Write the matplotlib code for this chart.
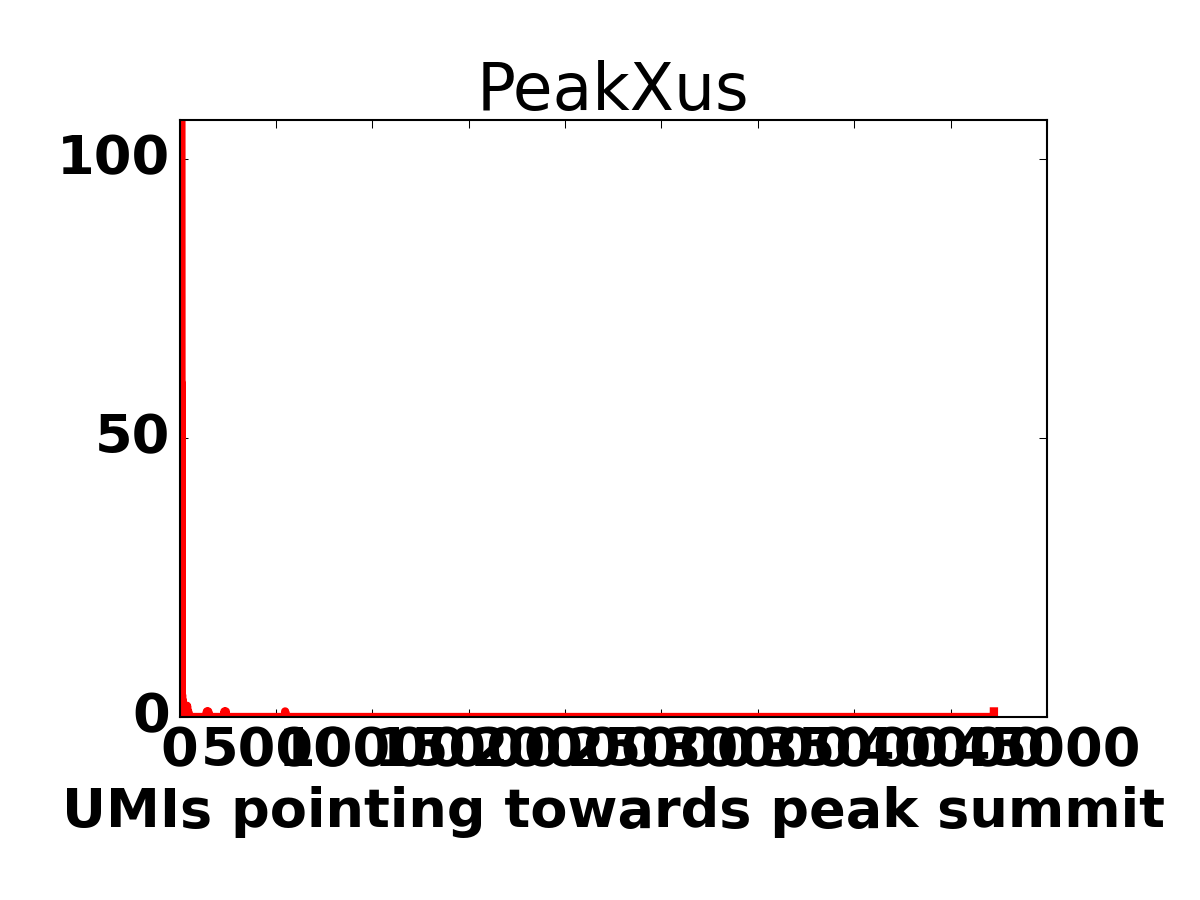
import matplotlib
matplotlib.use("Agg")
import matplotlib.pyplot as plt
import numpy as np

# number of peaks (y) for each UMI count (x); all other UMI counts have 0 peaks
umi_values = [1, 5, 10, 20, 30, 40, 50, 60, 70, 80, 90, 100, 110, 130, 160,
              200, 250, 300, 350, 390, 420, 450,
              1420, 1490, 2330, 2400, 5480, 42246]
peak_counts = [3000, 1500, 900, 600, 450, 350, 280, 220, 170, 130, 60, 20, 8, 4, 3,
               2, 2, 2, 2, 2, 1, 1,
               1, 1, 1, 1, 1, 1]

x_ticks = np.arange(0, 45001, 5000)
y_ticks = [0, 50, 100]

counts = np.zeros(max(umi_values) + 1)
counts[umi_values] = peak_counts

plt.rcParams["font.family"] = "DejaVu Sans"

fig = plt.figure(figsize=(8, 6), dpi=150)
ax = fig.add_axes([0.1496, 0.2033, 0.7229, 0.6634])
ax.plot(np.arange(len(counts)), counts, color="red", linewidth=4)

ax.set_xlim(0, 45000)
ax.set_ylim(0, 107)
ax.set_xticks(x_ticks)
ax.set_yticks(y_ticks)
ax.tick_params(direction="in", top=True, right=True, length=4, width=0.5,
               labelsize=26)
ax.tick_params(axis="x", pad=4)
ax.tick_params(axis="y", pad=4.5)
for lbl in ax.get_xticklabels() + ax.get_yticklabels():
    lbl.set_fontweight("bold")
for lbl in ax.get_yticklabels():
    lbl.set_verticalalignment("center")
for sp in ax.spines.values():
    sp.set_linewidth(1.0)

ax.set_title("PeakXus", fontsize=31, pad=5)
ax.set_xlabel("UMIs pointing towards peak summit", fontsize=26, fontweight="bold",
              labelpad=4)

fig.savefig("out.png", dpi=150, facecolor="white")
